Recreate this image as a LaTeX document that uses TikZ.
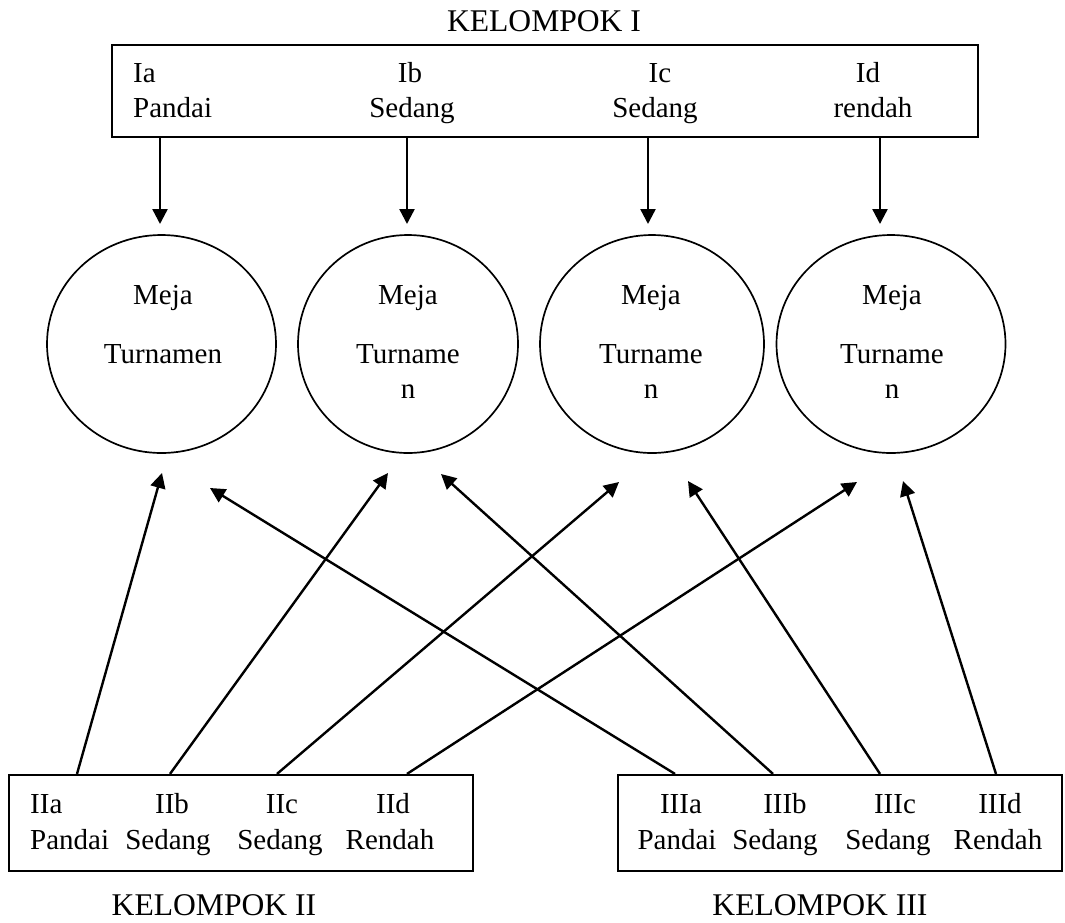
\documentclass[tikz,border=0pt]{standalone}
\usepackage{fontspec}
\setmainfont{Liberation Serif}
\usetikzlibrary{arrows.meta,shapes.geometric}
\begin{document}
\begin{tikzpicture}[x=1pt,y=-1pt,
  txt/.style={font=\fontsize{29}{34}\selectfont, inner sep=0pt, anchor=base},
  txtl/.style={txt, anchor=base west},
  grp/.style={font=\fontsize{31.6}{36}\selectfont, inner sep=0pt, anchor=base},
  box/.style={draw, line width=2.2pt, inner sep=0pt},
  meja/.style={draw, ellipse, line width=1.7pt, inner sep=0pt, minimum height=218pt},
  link/.style={line width=2.4pt, -{Triangle[length=15pt,width=15pt]}}]

\useasboundingbox (0,0) rectangle (1065,922);

% group boxes
\node[box, minimum width=866pt, minimum height=92pt] (g1) at (545,91) {};
\node[box, minimum width=464pt, minimum height=96pt] (g2) at (241,823) {};
\node[box, minimum width=444pt, minimum height=96pt] (g3) at (840,823) {};

% group titles
\node[grp] (t1) at (544,31) {KELOMPOK I};
\node[grp] (t2) at (214,915) {KELOMPOK II};
\node[grp] (t3) at (820,915) {KELOMPOK III};

% members of group I
\node[txtl] (ia1) at (133,82) {Ia};
\node[txtl] (ia2) at (133,117) {Pandai};
\node[txt] (ib1) at (410,82) {Ib};
\node[txt] (ib2) at (412,117) {Sedang};
\node[txt] (ic1) at (660,82) {Ic};
\node[txt] (ic2) at (655,117) {Sedang};
\node[txt] (id1) at (868,82) {Id};
\node[txt] (id2) at (873,117) {rendah};

% members of group II
\node[txtl] (iia1) at (30,813) {IIa};
\node[txtl] (iia2) at (30,849) {Pandai};
\node[txt] (iib1) at (172,813) {IIb};
\node[txt] (iib2) at (168,849) {Sedang};
\node[txt] (iic1) at (282,813) {IIc};
\node[txt] (iic2) at (280,849) {Sedang};
\node[txt] (iid1) at (393,813) {IId};
\node[txt] (iid2) at (390,849) {Rendah};

% members of group III
\node[txt] (iiia1) at (681,813) {IIIa};
\node[txt] (iiia2) at (677,849) {Pandai};
\node[txt] (iiib1) at (785,813) {IIIb};
\node[txt] (iiib2) at (775,849) {Sedang};
\node[txt] (iiic1) at (895,813) {IIIc};
\node[txt] (iiic2) at (888,849) {Sedang};
\node[txt] (iiid1) at (1000,813) {IIId};
\node[txt] (iiid2) at (998,849) {Rendah};

% tournament tables
\node[meja, minimum width=229pt] (m1) at (161.5,344) {};
\node[meja, minimum width=220pt] (m2) at (408,344) {};
\node[meja, minimum width=224pt] (m3) at (652,344) {};
\node[meja, minimum width=229pt] (m4) at (891,344) {};

\node[txt] (m1a) at (163,304) {Meja};
\node[txt] (m1b) at (163,363) {Turnamen};
\node[txt] (m2a) at (408,304) {Meja};
\node[txt] (m2b) at (408,363) {Turname};
\node[txt] (m2c) at (408,398) {n};
\node[txt] (m3a) at (651,304) {Meja};
\node[txt] (m3b) at (651,363) {Turname};
\node[txt] (m3c) at (651,398) {n};
\node[txt] (m4a) at (892,304) {Meja};
\node[txt] (m4b) at (892,363) {Turname};
\node[txt] (m4c) at (892,398) {n};

% arrow tips above the tables
\coordinate (d1) at (160,224);
\coordinate (d2) at (407,224);
\coordinate (d3) at (648,224);
\coordinate (d4) at (880,224);

\draw[link] (g1.south -| d1) -- (d1);
\draw[link] (g1.south -| d2) -- (d2);
\draw[link] (g1.south -| d3) -- (d3);
\draw[link] (g1.south -| d4) -- (d4);

% arrow tips below the tables
\coordinate (u1a) at (162,473);
\coordinate (u1b) at (210,488);
\coordinate (u2a) at (388,473);
\coordinate (u2b) at (441,474);
\coordinate (u3a) at (619,482);
\coordinate (u3b) at (688,481);
\coordinate (u4a) at (857,482);
\coordinate (u4b) at (903,481);

% start points on the lower boxes
\coordinate (s2a) at (77,775);
\coordinate (s2b) at (170,775);
\coordinate (s2c) at (277,775);
\coordinate (s2d) at (407,775);
\coordinate (s3a) at (675,775);
\coordinate (s3b) at (773,775);
\coordinate (s3c) at (880,775);
\coordinate (s3d) at (996,775);

\draw[link] (g2.north -| s2a) -- (u1a);
\draw[link] (g2.north -| s2b) -- (u2a);
\draw[link] (g2.north -| s2c) -- (u3a);
\draw[link] (g2.north -| s2d) -- (u4a);
\draw[link] (g3.north -| s3a) -- (u1b);
\draw[link] (g3.north -| s3b) -- (u2b);
\draw[link] (g3.north -| s3c) -- (u3b);
\draw[link] (g3.north -| s3d) -- (u4b);

\end{tikzpicture}
\end{document}
